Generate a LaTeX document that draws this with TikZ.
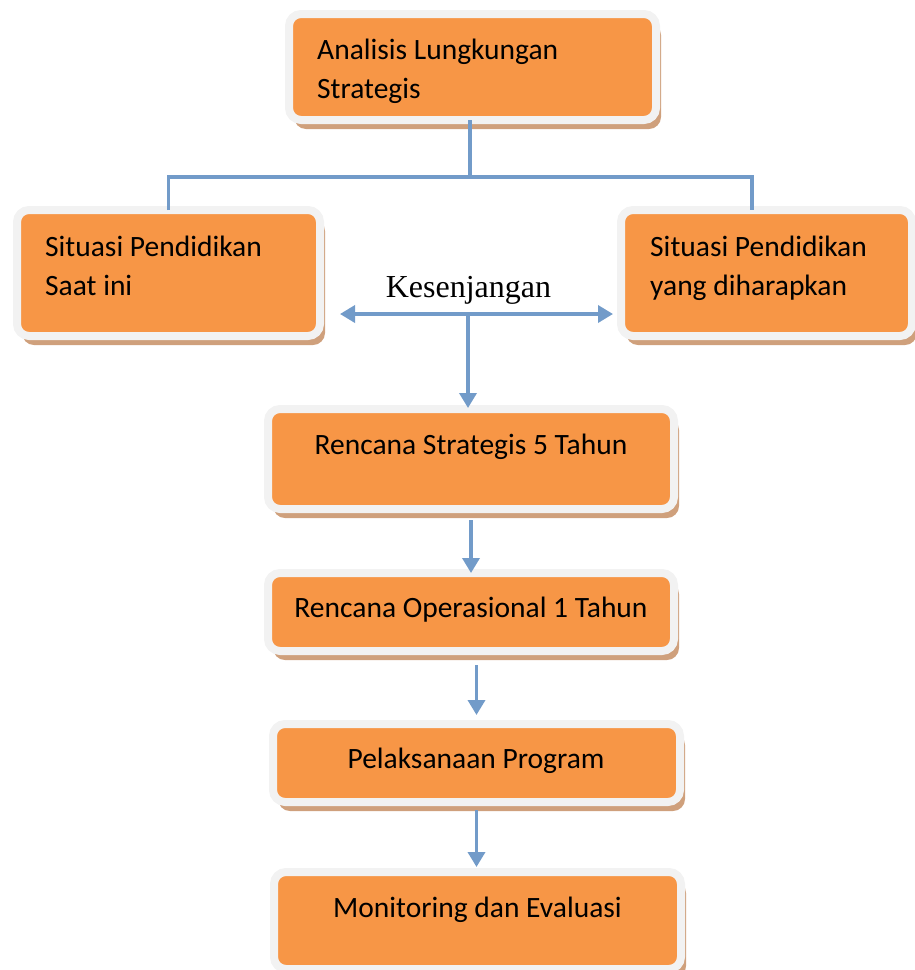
\documentclass[tikz,border=0pt]{standalone}
\usepackage{fontspec}
\setmainfont{Carlito}
\newfontfamily\kesfont{Liberation Serif}
\usetikzlibrary{positioning,shadows,arrows.meta}

\definecolor{boxfill}{HTML}{F79646}
\definecolor{frame}{HTML}{F2F2F2}
\definecolor{shade}{HTML}{CFA07C}
\definecolor{link}{HTML}{729BC9}

\tikzset{
	box/.style = {draw=frame, line width=8pt, fill=boxfill, rounded corners=12pt, outer sep=0pt,
		drop shadow={shadow xshift=5pt, shadow yshift=-9pt, fill=shade, opacity=1}},
	boxtext/.style = {inner sep=0pt, font=\fontsize{29.5}{39}\selectfont, align=left},
	conn/.style = {draw=link, line width=3.5pt},
	flow/.style = {conn, -{Triangle[length=15pt, width=17pt]}},
}

\begin{document}
\begin{tikzpicture}[x=1pt, y=-1pt]
	\useasboundingbox (0,0) rectangle (915,970);
	% boxes
	\node[box, minimum width=367pt, minimum height=106pt] (analisis) at (472.5,67) {};
	\node[box, minimum width=303pt, minimum height=126pt] (kini) at (168.5,273) {};
	\node[box, minimum width=291pt, minimum height=126pt] (harap) at (766.5,273) {};
	\node[box, minimum width=406pt, minimum height=100pt] (renstra) at (471,459) {};
	\node[box, below=64pt of renstra, minimum width=406pt, minimum height=78pt] (renop) {};
	\node[box, below=73pt of renop, xshift=5.5pt, minimum width=407pt, minimum height=78pt] (pelaksanaan) {};
	\node[box, below=70pt of pelaksanaan, xshift=1pt, minimum width=407pt, minimum height=97pt] (monev) {};
	% box texts, drawn as separate nodes (base = last line)
	\node[boxtext, anchor=base west] (analisis-t) at (317,98) {Analisis Lungkungan\\Strategis};
	\node[boxtext, anchor=base west] (kini-t) at (45,295) {Situasi Pendidikan\\Saat ini};
	\node[boxtext, anchor=base west] (harap-t) at (650,295) {Situasi Pendidikan\\yang diharapkan};
	\node[boxtext, anchor=base] (renstra-t) at (471,454) {Rencana Strategis 5 Tahun};
	\node[boxtext, anchor=base] (renop-t) at (471,617) {Rencana Operasional 1 Tahun};
	\node[boxtext, anchor=base] (pelaksanaan-t) at (476,768) {Pelaksanaan Program};
	\node[boxtext, anchor=base] (monev-t) at (477.5,917) {Monitoring dan Evaluasi};
	\node[inner sep=0pt, anchor=base, font=\kesfont\fontsize{32}{38}\selectfont] (gap-t) at (468.5,297) {Kesenjangan};
	% connectors
	\coordinate (split) at (470,177);
	\coordinate (harap-in) at (752,210);
	\coordinate (gap) at (468,314);
	\coordinate (gap-l) at (340,314);
	\coordinate (gap-r) at (613,314);
	\draw[conn] (analisis.south -| split) -- (split);
	\draw[conn] (kini.north) |- (split) -| (harap-in);
	\draw[conn, {Triangle[length=15pt, width=17pt]}-{Triangle[length=15pt, width=17pt]}] (gap-l) -- (gap-r);
	\draw[flow, shorten >=1pt] (gap) -- (gap |- renstra.north);
	\draw[flow, shorten <=11pt] (renstra.south) -- (renop.north);
	\draw[flow, shorten <=14pt, shorten >=9pt] (pelaksanaan.north |- renop.south) -- (pelaksanaan.north);
	\draw[flow, shorten <=8pt, shorten >=5pt] (pelaksanaan.south) -- (pelaksanaan.south |- monev.north);
\end{tikzpicture}
\end{document}
